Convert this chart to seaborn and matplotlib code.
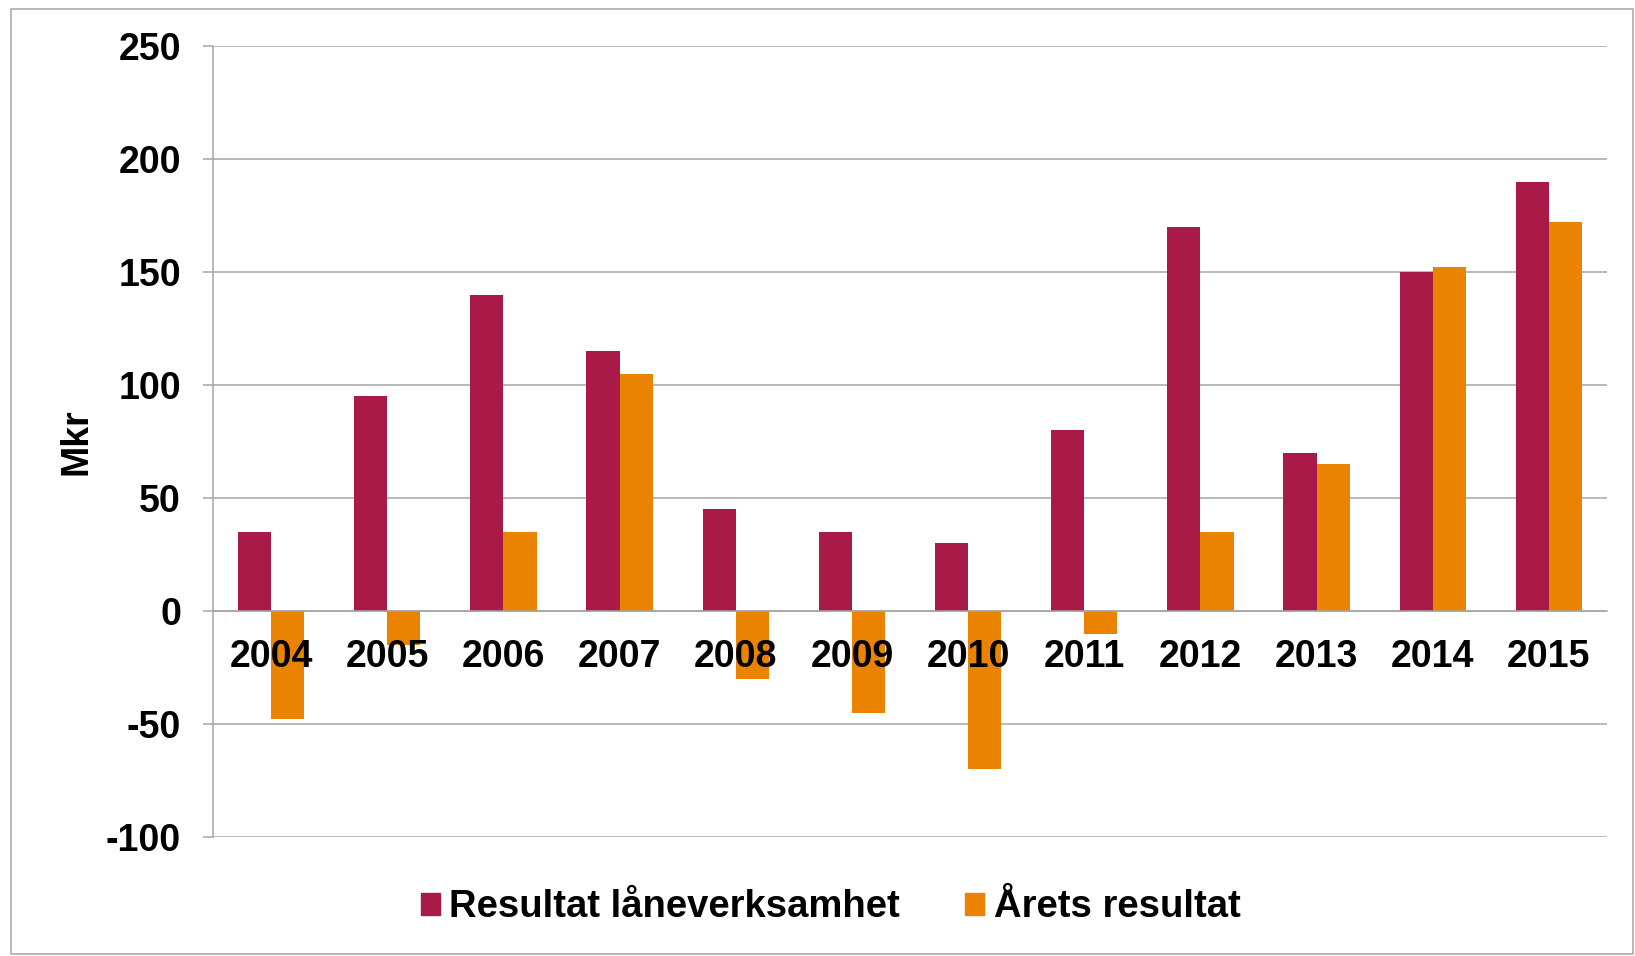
import numpy as np
import pandas as pd
import matplotlib
matplotlib.use("Agg")
import matplotlib.pyplot as plt
from matplotlib.patches import Rectangle
import seaborn as sns

years = ["2004", "2005", "2006", "2007", "2008", "2009",
         "2010", "2011", "2012", "2013", "2014", "2015"]
laneverksamhet = [35, 95, 140, 115, 45, 35, 30, 80, 170, 70, 150, 190]
arets_resultat = [-48, -15, 35, 105, -30, -45, -70, -10, 35, 65, 152, 172]
series_names = ["Resultat låneverksamhet", "Årets resultat"]
colors = ["#AA1A48", "#E98300"]
y_ticks = [-100, -50, 0, 50, 100, 150, 200, 250]

df = pd.DataFrame({
    "År": years * 2,
    "Mkr": laneverksamhet + arets_resultat,
    "Serie": [series_names[0]] * len(years) + [series_names[1]] * len(years),
})

sns.set_style("white")
plt.rcParams["font.family"] = ["Liberation Sans", "DejaVu Sans"]
plt.rcParams["font.weight"] = "bold"
plt.rcParams["axes.unicode_minus"] = False
plt.rcParams["text.color"] = "black"
plt.rcParams["xtick.color"] = "black"
plt.rcParams["ytick.color"] = "black"
plt.rcParams["axes.labelcolor"] = "black"

grid_col = "#A6A6A6"
fig = plt.figure(figsize=(16.35, 9.56), dpi=100)
ax = fig.add_axes([213 / 1635, 1 - 837 / 956, (1607 - 213) / 1635, (837 - 46) / 956])

sns.barplot(data=df, x="År", y="Mkr", hue="Serie", palette=colors,
            width=0.57, saturation=1, linewidth=0, ax=ax)

ax.set_ylim(-100, 250)
ax.set_xlim(-0.5, len(years) - 0.5)
ax.set_yticks(y_ticks)
ax.yaxis.grid(True, color=grid_col, linewidth=1.1)
ax.set_axisbelow(True)
# year labels sit on top of the negative bars, as in the original
ax.xaxis.set_zorder(5)

for s in ["top", "right"]:
    ax.spines[s].set_visible(False)
ax.spines["left"].set_color(grid_col)
ax.spines["left"].set_linewidth(1.1)
ax.spines["bottom"].set_position(("data", 0))
ax.spines["bottom"].set_color(grid_col)
ax.spines["bottom"].set_linewidth(1.1)

ax.set_xticks(np.arange(0.5, len(years), 1), minor=True)
ax.tick_params(axis="x", which="major", length=0, pad=20, labelsize=27)
ax.tick_params(axis="x", which="minor", length=8, width=1.1, color=grid_col, direction="out")
ax.tick_params(axis="y", length=7, width=1.1, color=grid_col, pad=16, labelsize=27,
               left=True, labelcolor="black")
ax.tick_params(axis="x", labelcolor="black")
for lab in ax.get_xticklabels() + ax.get_yticklabels():
    lab.set_fontweight("bold")

ax.set_xlabel("")
ax.set_ylabel("Mkr", fontsize=27, fontweight="bold", labelpad=8.5, color="black")

ax.legend_.remove()
handles = [Rectangle((0, 0), 1, 1, color=c) for c in colors]
fig.legend(handles, series_names, loc="center", bbox_to_anchor=(0.508, 0.051),
           bbox_transform=fig.transFigure, ncol=2, frameon=False,
           prop={"size": 27.5, "weight": "bold"}, handlelength=0.5, handleheight=0.5,
           handletextpad=0.25, columnspacing=1.7)

fig.patches.append(Rectangle((11 / 1635, 2 / 956), (1633 - 11) / 1635, (954 - 9) / 956,
                             transform=fig.transFigure, fill=False,
                             edgecolor=grid_col, linewidth=1.1))

fig.savefig("out.png", dpi=100)
